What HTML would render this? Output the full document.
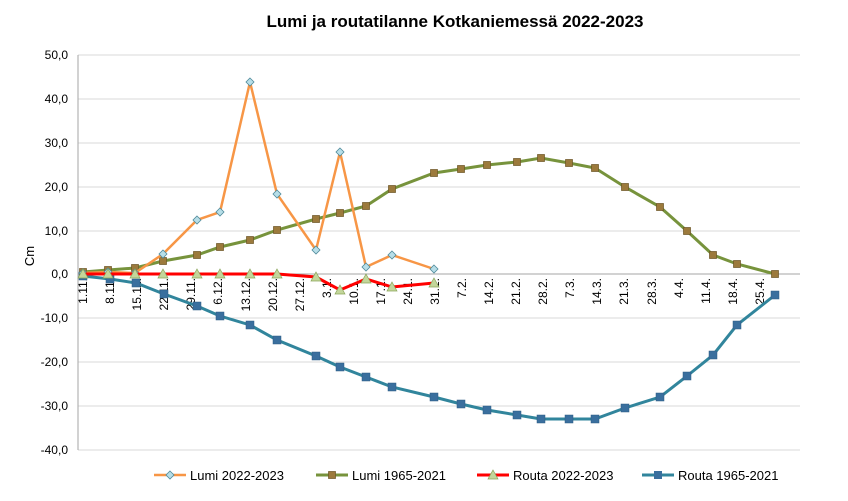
<!DOCTYPE html>
<html><head><meta charset="utf-8"><style>body{margin:0;background:#fff}svg{display:block;font-family:"Liberation Sans",Arial,sans-serif}</style></head><body>
<svg width="848" height="501" viewBox="0 0 848 501">
<text x="455" y="27" font-size="17" font-weight="bold" text-anchor="middle">Lumi ja routatilanne Kotkaniemessä 2022-2023</text>
<g stroke="#d9d9d9" stroke-width="1">
<line x1="78" x2="800" y1="55" y2="55"/><line x1="78" x2="800" y1="99" y2="99"/><line x1="78" x2="800" y1="143" y2="143"/><line x1="78" x2="800" y1="187" y2="187"/><line x1="78" x2="800" y1="231" y2="231"/><line x1="78" x2="800" y1="318" y2="318"/><line x1="78" x2="800" y1="362" y2="362"/><line x1="78" x2="800" y1="406" y2="406"/><line x1="78" x2="800" y1="450" y2="450"/>
</g>
<line x1="78" x2="78" y1="55" y2="450" stroke="#a6a6a6"/>
<line x1="78" x2="800" y1="274" y2="274" stroke="#a6a6a6"/>
<g font-size="12" text-anchor="end" fill="#000">
<text x="68" y="59">50,0</text><text x="68" y="103">40,0</text><text x="68" y="147">30,0</text><text x="68" y="191">20,0</text><text x="68" y="235">10,0</text><text x="68" y="278">0,0</text><text x="68" y="322">-10,0</text><text x="68" y="366">-20,0</text><text x="68" y="410">-30,0</text><text x="68" y="454">-40,0</text>
</g>
<text transform="translate(34,256) rotate(-90)" font-size="13" text-anchor="middle">Cm</text>
<g font-size="12" text-anchor="end">
<text transform="translate(87,278) rotate(-90)">1.11.</text>
<text transform="translate(114,278) rotate(-90)">8.11.</text>
<text transform="translate(141,278) rotate(-90)">15.11.</text>
<text transform="translate(168,278) rotate(-90)">22.11.</text>
<text transform="translate(195,278) rotate(-90)">29.11.</text>
<text transform="translate(222,278) rotate(-90)">6.12.</text>
<text transform="translate(250,278) rotate(-90)">13.12.</text>
<text transform="translate(277,278) rotate(-90)">20.12.</text>
<text transform="translate(304,278) rotate(-90)">27.12.</text>
<text transform="translate(331,278) rotate(-90)">3.1.</text>
<text transform="translate(358,278) rotate(-90)">10.1.</text>
<text transform="translate(385,278) rotate(-90)">17.1.</text>
<text transform="translate(412,278) rotate(-90)">24.1.</text>
<text transform="translate(439,278) rotate(-90)">31.1.</text>
<text transform="translate(466,278) rotate(-90)">7.2.</text>
<text transform="translate(493,278) rotate(-90)">14.2.</text>
<text transform="translate(520,278) rotate(-90)">21.2.</text>
<text transform="translate(547,278) rotate(-90)">28.2.</text>
<text transform="translate(574,278) rotate(-90)">7.3.</text>
<text transform="translate(601,278) rotate(-90)">14.3.</text>
<text transform="translate(628,278) rotate(-90)">21.3.</text>
<text transform="translate(656,278) rotate(-90)">28.3.</text>
<text transform="translate(683,278) rotate(-90)">4.4.</text>
<text transform="translate(710,278) rotate(-90)">11.4.</text>
<text transform="translate(737,278) rotate(-90)">18.4.</text>
<text transform="translate(764,278) rotate(-90)">25.4.</text>
</g>
<polyline fill="none" stroke="#31859c" stroke-width="3" points="83,276 110,279 136,283 164,294 197,306 220,316 250,325 277,340 316,356 340,367 366,377 392,387 434,397 461,404 487,410 517,415 541,419 569,419 595,419 625,408 660,397 687,376 713,355 737,325 775,295"/>
<g fill="#3a6f9e" stroke="#2d5a82" stroke-width="0.5">
<rect x="79" y="272" width="8" height="8"/><rect x="106" y="275" width="8" height="8"/><rect x="132" y="279" width="8" height="8"/><rect x="160" y="290" width="8" height="8"/><rect x="193" y="302" width="8" height="8"/><rect x="216" y="312" width="8" height="8"/><rect x="246" y="321" width="8" height="8"/><rect x="273" y="336" width="8" height="8"/><rect x="312" y="352" width="8" height="8"/><rect x="336" y="363" width="8" height="8"/><rect x="362" y="373" width="8" height="8"/><rect x="388" y="383" width="8" height="8"/><rect x="430" y="393" width="8" height="8"/><rect x="457" y="400" width="8" height="8"/><rect x="483" y="406" width="8" height="8"/><rect x="513" y="411" width="8" height="8"/><rect x="537" y="415" width="8" height="8"/><rect x="565" y="415" width="8" height="8"/><rect x="591" y="415" width="8" height="8"/><rect x="621" y="404" width="8" height="8"/><rect x="656" y="393" width="8" height="8"/><rect x="683" y="372" width="8" height="8"/><rect x="709" y="351" width="8" height="8"/><rect x="733" y="321" width="8" height="8"/><rect x="771" y="291" width="8" height="8"/>
</g>
<polyline fill="none" stroke="#77933c" stroke-width="3" points="83,272 108,270 135,268 163,261 197,255 220,247 250,240 277,230 316,219 340,213 366,206 392,189 434,173 461,169 487,165 517,162 541,158 569,163 595,168 625,187 660,207 687,231 713,255 737,264 775,274"/>
<g fill="#9c7a3c" stroke="#6b5424" stroke-width="0.7">
<rect x="79.5" y="268.5" width="7" height="7"/><rect x="104.5" y="266.5" width="7" height="7"/><rect x="131.5" y="264.5" width="7" height="7"/><rect x="159.5" y="257.5" width="7" height="7"/><rect x="193.5" y="251.5" width="7" height="7"/><rect x="216.5" y="243.5" width="7" height="7"/><rect x="246.5" y="236.5" width="7" height="7"/><rect x="273.5" y="226.5" width="7" height="7"/><rect x="312.5" y="215.5" width="7" height="7"/><rect x="336.5" y="209.5" width="7" height="7"/><rect x="362.5" y="202.5" width="7" height="7"/><rect x="388.5" y="185.5" width="7" height="7"/><rect x="430.5" y="169.5" width="7" height="7"/><rect x="457.5" y="165.5" width="7" height="7"/><rect x="483.5" y="161.5" width="7" height="7"/><rect x="513.5" y="158.5" width="7" height="7"/><rect x="537.5" y="154.5" width="7" height="7"/><rect x="565.5" y="159.5" width="7" height="7"/><rect x="591.5" y="164.5" width="7" height="7"/><rect x="621.5" y="183.5" width="7" height="7"/><rect x="656.5" y="203.5" width="7" height="7"/><rect x="683.5" y="227.5" width="7" height="7"/><rect x="709.5" y="251.5" width="7" height="7"/><rect x="733.5" y="260.5" width="7" height="7"/><rect x="771.5" y="270.5" width="7" height="7"/>
</g>
<polyline fill="none" stroke="#f79646" stroke-width="2.5" points="83,273 108,272 135,273 163,254 197,220 220,212 250,82 277,194 316,250 340,152 366,267 392,255 434,269"/>
<g fill="#b7dee8" stroke="#4f8a9a" stroke-width="0.8">
<path d="M83,269 l4,4 -4,4 -4,-4z"/><path d="M108,268 l4,4 -4,4 -4,-4z"/><path d="M135,269 l4,4 -4,4 -4,-4z"/><path d="M163,250 l4,4 -4,4 -4,-4z"/><path d="M197,216 l4,4 -4,4 -4,-4z"/><path d="M220,208 l4,4 -4,4 -4,-4z"/><path d="M250,78 l4,4 -4,4 -4,-4z"/><path d="M277,190 l4,4 -4,4 -4,-4z"/><path d="M316,246 l4,4 -4,4 -4,-4z"/><path d="M340,148 l4,4 -4,4 -4,-4z"/><path d="M366,263 l4,4 -4,4 -4,-4z"/><path d="M392,251 l4,4 -4,4 -4,-4z"/><path d="M434,265 l4,4 -4,4 -4,-4z"/>
</g>
<polyline fill="none" stroke="#ff0000" stroke-width="3" points="83,274 108,274 135,274 163,274 197,274 220,274 250,274 277,274 316,277 340,290 366,279 392,287 434,283"/>
<g fill="#c3d69b" stroke="#8aa55a" stroke-width="0.7">
<path d="M83,269 l5,9 h-10z"/><path d="M108,269 l5,9 h-10z"/><path d="M135,269 l5,9 h-10z"/><path d="M163,269 l5,9 h-10z"/><path d="M197,269 l5,9 h-10z"/><path d="M220,269 l5,9 h-10z"/><path d="M250,269 l5,9 h-10z"/><path d="M277,269 l5,9 h-10z"/><path d="M316,272 l5,9 h-10z"/><path d="M340,285 l5,9 h-10z"/><path d="M366,274 l5,9 h-10z"/><path d="M392,282 l5,9 h-10z"/><path d="M434,278 l5,9 h-10z"/>
</g>
<g font-size="13">
<line x1="154" x2="186" y1="475" y2="475" stroke="#f79646" stroke-width="2.5"/><path d="M170,471 l4,4 -4,4 -4,-4z" fill="#b7dee8" stroke="#4f8a9a" stroke-width="0.8"/><text x="190" y="480">Lumi 2022-2023</text>
<line x1="316" x2="348" y1="475" y2="475" stroke="#77933c" stroke-width="3"/><rect x="328.5" y="471.5" width="7" height="7" fill="#9c7a3c" stroke="#6b5424" stroke-width="0.7"/><text x="352" y="480">Lumi 1965-2021</text>
<line x1="477" x2="509" y1="475" y2="475" stroke="#ff0000" stroke-width="3"/><path d="M493,470 l5,9 h-10z" fill="#c3d69b" stroke="#8aa55a" stroke-width="0.7"/><text x="513" y="480">Routa 2022-2023</text>
<line x1="642" x2="674" y1="475" y2="475" stroke="#31859c" stroke-width="3"/><rect x="654" y="471" width="8" height="8" fill="#3a6f9e"/><text x="678" y="480">Routa 1965-2021</text>
</g>
</svg>
</body></html>
